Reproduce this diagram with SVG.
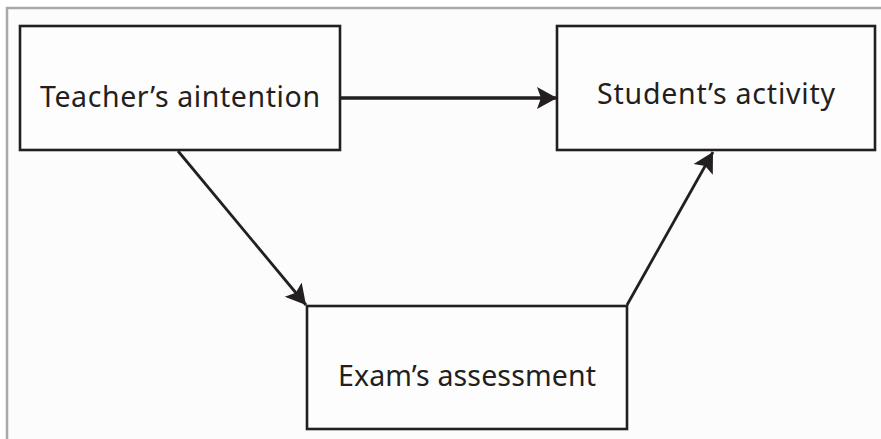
<svg xmlns="http://www.w3.org/2000/svg" width="881" height="439" viewBox="0 0 881 439">
<defs>
<style>
.box{fill:#fdfdfd;stroke:#231f20;stroke-width:2.6}
.lbl{font-family:"Noto Sans","Open Sans",sans-serif;font-size:28.5px;fill:#231f20;text-anchor:middle}
.conn{stroke:#231f20;stroke-width:2.8;fill:none}
.thick{stroke-width:3.4}
</style>
<marker id="ah" markerUnits="userSpaceOnUse" markerWidth="22" markerHeight="24" viewBox="0 0 22 24" refX="20" refY="12" orient="auto">
<path d="M0,1 L20,12 L0,23 L4,12 Z" fill="#231f20"/>
</marker>
</defs>
<rect x="0" y="0" width="881" height="439" fill="#ffffff"/>
<rect x="7" y="8" width="900" height="460" fill="#fcfcfc" stroke="#a9a9a9" stroke-width="2.5"/>
<g id="connectors">
<line class="conn thick" x1="341" y1="98" x2="557" y2="98" marker-end="url(#ah)"/>
<line class="conn" x1="178" y1="151" x2="306" y2="305" marker-end="url(#ah)"/>
<line class="conn" x1="627" y1="305" x2="713" y2="152" marker-end="url(#ah)"/>
</g>
<g id="teacher">
<rect class="box" x="20" y="26" width="320" height="124"/>
<text class="lbl" x="180" y="107" textLength="280" lengthAdjust="spacing">Teacher’s aintention</text>
</g>
<g id="student">
<rect class="box" x="557" y="26" width="318" height="124"/>
<text class="lbl" x="716" y="104" textLength="238" lengthAdjust="spacing">Student’s activity</text>
</g>
<g id="exam">
<rect class="box" x="307" y="306" width="320" height="123"/>
<text class="lbl" x="467" y="386" textLength="258" lengthAdjust="spacing">Exam’s assessment</text>
</g>
</svg>
